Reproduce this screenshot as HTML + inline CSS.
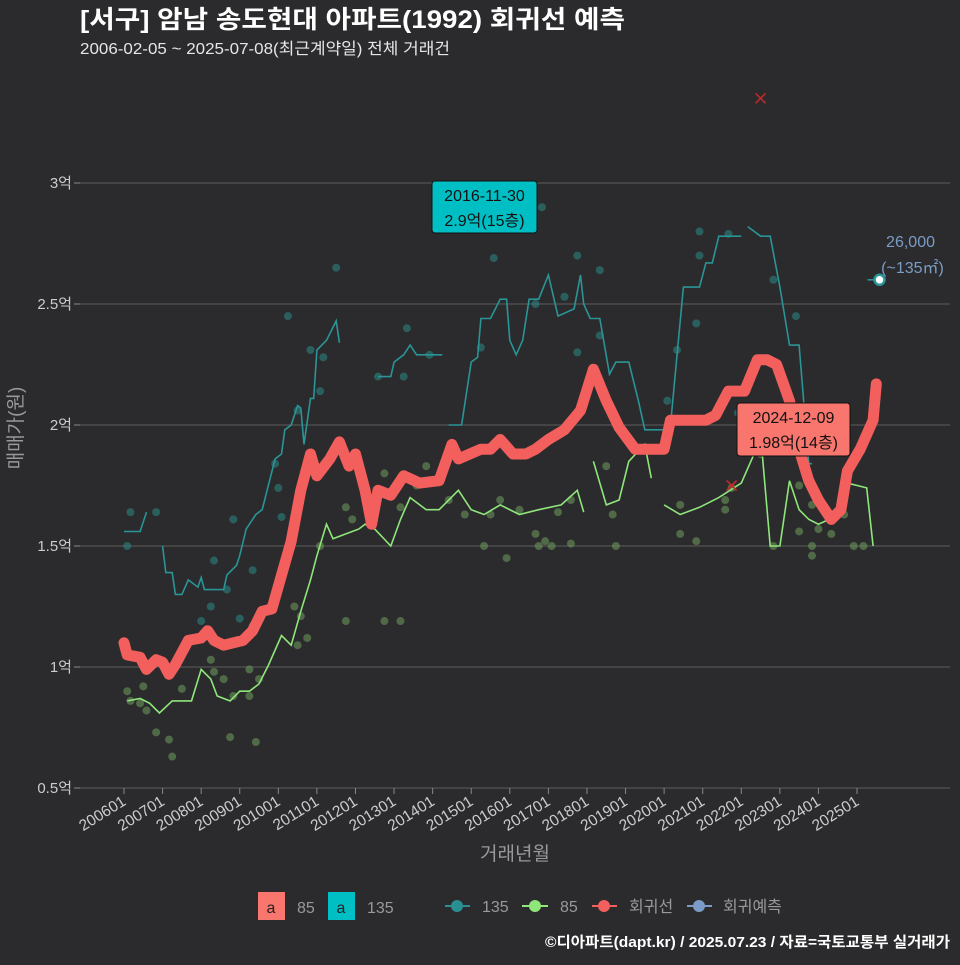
<!DOCTYPE html>
<html><head><meta charset="utf-8">
<style>
html,body{margin:0;padding:0;background:#2b2b2d;}
body{width:960px;height:960px;overflow:hidden;font-family:"Liberation Sans","Noto Sans CJK KR",sans-serif;}
</style></head>
<body>
<svg id="chart" width="960" height="960" xmlns="http://www.w3.org/2000/svg" style="font-family:'Liberation Sans','Noto Sans CJK KR',sans-serif">
<rect width="960" height="960" fill="#2b2b2d"/>
<text x="80" y="28" fill="#ffffff" font-size="25" font-weight="bold" textLength="545" lengthAdjust="spacingAndGlyphs">[서구] 암남 송도현대 아파트(1992) 회귀선 예측</text>
<text x="80" y="54" fill="#e6e6e6" font-size="16" textLength="370" lengthAdjust="spacingAndGlyphs">2006-02-05 ~ 2025-07-08(최근계약일) 전체 거래건</text>
<g id="grid"></g>
<g id="marks"></g>
<g id="axes"></g>
<text x="515" y="860" fill="#999" font-size="19" text-anchor="middle">거래년월</text>
<text transform="translate(22,428) rotate(-90)" fill="#999" font-size="19" text-anchor="middle">매매가(원)</text>
<g>
 <rect x="258" y="892" width="27" height="28" fill="#f8766d"/>
 <text x="271" y="913" font-size="16" text-anchor="middle" fill="#222">a</text>
 <text x="297" y="913" font-size="16" fill="#999">85</text>
 <rect x="328" y="892" width="27" height="28" fill="#00bfc4"/>
 <text x="341" y="913" font-size="16" text-anchor="middle" fill="#222">a</text>
 <text x="367" y="913" font-size="16" fill="#999">135</text>
 <g><line x1="445" x2="470" y1="906" y2="906" stroke="#2a8f91" stroke-width="2"/><circle cx="457" cy="906" r="6" fill="#2a8f91"/><text x="482" y="912" font-size="16" fill="#999">135</text></g>
 <g><line x1="522" x2="548" y1="906" y2="906" stroke="#8fe67a" stroke-width="2"/><circle cx="535" cy="906" r="6" fill="#8fe67a"/><text x="560" y="912" font-size="16" fill="#999">85</text></g>
 <g><line x1="592" x2="617" y1="906" y2="906" stroke="#f25f5c" stroke-width="2"/><circle cx="604" cy="906" r="6" fill="#f25f5c"/><text x="629" y="912" font-size="16" fill="#999">회귀선</text></g>
 <g><line x1="687" x2="712" y1="906" y2="906" stroke="#7a9cc6" stroke-width="2"/><circle cx="699" cy="906" r="6" fill="#7a9cc6"/><text x="723" y="912" font-size="16" fill="#999">회귀예측</text></g>
</g>
<text x="950" y="947" font-size="15" font-weight="bold" fill="#fff" text-anchor="end" textLength="405" lengthAdjust="spacingAndGlyphs">©디아파트(dapt.kr) / 2025.07.23 / 자료=국토교통부 실거래가</text>
</svg>
<script>
const NS='http://www.w3.org/2000/svg';
const yTicks=[0.5,1,1.5,2,2.5,3];
const yTickLabels=['0.5억','1억','1.5억','2억','2.5억','3억'];
const xTickLabels=['200601','200701','200801','200901','201001','201101','201201','201301','201401','201501','201601','201701','201801','201901','202001','202101','202201','202301','202401','202501'];
const regMonths=[0,1,5,7,10,12,14,16,20,24,26,28,31,37,40,43,46,52,55,58,60,64,67,70,72,75,77,79,83,87,92,98,102,104,111,114,117,121,125,128,132,137,142,146,150,154,159,164,168,170,176,181,184,188,193,197,200,203,207,210,213,216,220,223,225,229,233,234];
const regValues=[1.10,1.05,1.04,0.99,1.03,1.02,0.97,1.01,1.11,1.12,1.15,1.11,1.09,1.11,1.15,1.23,1.24,1.52,1.73,1.88,1.79,1.86,1.93,1.83,1.88,1.73,1.59,1.73,1.71,1.79,1.76,1.77,1.92,1.86,1.90,1.90,1.94,1.88,1.88,1.90,1.94,1.98,2.06,2.23,2.10,1.99,1.90,1.90,1.90,2.02,2.02,2.02,2.04,2.14,2.14,2.27,2.27,2.25,2.10,1.90,1.77,1.69,1.61,1.65,1.81,1.90,2.02,2.17];
const s85Months=[1,5,8,11,15,21,24,27,29,33,36,39,42,45,49,52,55,58,60,63,65,69,73,75,78,83,86,89,94,98,104,108,112,117,123,129,136,141,143,null,146,150,154,157,162,164,null,168,173,179,185,192,196,198,201,204,207,210,213,216,221,225,231,233];
const s85Values=[0.86,0.87,0.85,0.81,0.86,0.86,0.99,0.95,0.88,0.86,0.90,0.90,0.93,1.01,1.13,1.09,1.23,1.36,1.46,1.59,1.53,1.55,1.57,1.59,1.57,1.50,1.61,1.70,1.65,1.65,1.73,1.65,1.63,1.67,1.63,1.65,1.67,1.73,1.64,null,1.85,1.67,1.69,1.85,1.92,1.78,null,1.67,1.63,1.66,1.70,1.76,1.88,1.96,1.50,1.50,1.77,1.65,1.61,1.59,1.62,1.76,1.74,1.50];
const s135Months=[0,5,7,null,12,13,15,16,18,20,23,24,25,31,32,35,36,38,41,43,47,49,50,52,54,55,56,58,59,60,63,66,67,null,79,83,84,87,89,91,99,null,101,105,108,110,111,114,117,119,120,122,124,126,129,132,135,140,142,143,145,148,151,153,157,160,162,168,170,174,179,181,183,185,192,null,194,198,201,204,207,210,213,214];
const s135Values=[1.56,1.56,1.64,null,1.50,1.39,1.39,1.30,1.30,1.36,1.33,1.37,1.32,1.32,1.38,1.42,1.46,1.57,1.63,1.65,1.86,1.88,1.98,2.00,2.08,2.07,1.92,2.11,2.11,2.31,2.35,2.43,2.34,null,2.20,2.20,2.26,2.29,2.33,2.29,2.29,null,2.00,2.00,2.26,2.28,2.44,2.44,2.52,2.52,2.35,2.29,2.35,2.52,2.52,2.62,2.45,2.48,2.62,2.50,2.44,2.44,2.21,2.26,2.26,2.10,1.98,1.98,2.00,2.57,2.57,2.67,2.67,2.78,2.78,null,2.82,2.78,2.78,2.57,2.33,2.33,1.84,1.84];
const dot135Months=[1,2,10,24,28,27,34,36,40,40,32,48,47,49,54,58,61,62,51,66,79,87,88,95,111,115,128,130,137,141,148,141,148,169,172,178,179,179,188,202,209,191,206];
const dot135Values=[1.50,1.64,1.64,1.19,1.44,1.25,1.61,1.20,1.17,1.40,1.32,1.74,1.84,1.62,2.06,2.31,2.14,2.28,2.45,2.65,2.20,2.20,2.40,2.29,2.32,2.69,2.50,2.90,2.53,2.70,2.64,2.30,2.37,2.10,2.31,2.42,2.70,2.80,2.79,2.60,2.45,2.05,2.12];
const dot85Months=[1,2,5,7,10,15,14,6,18,27,28,31,33,34,39,41,39,42,53,55,57,54,61,69,71,69,81,86,86,81,91,94,101,106,112,114,117,119,123,128,129,131,135,139,139,133,150,152,153,173,173,178,187,187,189,198,210,214,216,220,224,210,214,227,230,214,202];
const dot85Values=[0.90,0.86,0.85,0.82,0.73,0.63,0.70,0.92,0.91,1.03,0.98,0.95,0.71,0.88,0.88,0.69,0.99,0.95,1.25,1.21,1.12,1.09,1.50,1.66,1.61,1.19,1.80,1.66,1.19,1.19,1.75,1.83,1.69,1.63,1.50,1.63,1.69,1.45,1.65,1.55,1.50,1.52,1.64,1.69,1.51,1.50,1.83,1.63,1.50,1.67,1.55,1.52,1.69,1.65,1.74,1.88,1.75,1.67,1.57,1.55,1.63,1.56,1.50,1.50,1.50,1.46,1.50];
const cancelMonths=[198,189];
const cancelValues=[3.35,1.75];
const predMonth=[235];
const predValue=[2.60];

const X0=124, PXM=38.58/12;
function xs(m){return X0+m*PXM;}
function ys(v){return 788-(v-0.5)*242;}
function el(tag,attrs,parent){const e=document.createElementNS(NS,tag);for(const k in attrs)e.setAttribute(k,attrs[k]);parent.appendChild(e);return e;}
const grid=document.getElementById('grid'),marks=document.getElementById('marks'),axes=document.getElementById('axes');

yTicks.forEach((v,i)=>{
  const l=el('line',{x1:80,x2:950,y1:ys(v),y2:ys(v),stroke:'#5c5c5c','stroke-width':1},grid);
  
  
  el('line',{x1:74,x2:80,y1:ys(v),y2:ys(v),stroke:'#888'},axes);
  const t=el('text',{x:72,y:ys(v)+5,'text-anchor':'end','font-size':15,fill:'#ccc'},axes);
  t.textContent=yTickLabels[i];
  
  
});
xTickLabels.forEach((lab,i)=>{
  const x=xs(i*12);
  el('line',{x1:x,x2:x,y1:788,y2:794,stroke:'#888'},axes);
  const t=el('text',{transform:`translate(${x+3},${804}) rotate(-32)`,'text-anchor':'end','font-size':15.5,fill:'#ccc'},axes);
  t.textContent=lab;
  
  
});

function dots(ms,vs,fill,name){
  ms.forEach((m,i)=>{
    const c=el('circle',{cx:xs(m),cy:ys(vs[i]),r:4,fill:fill,'fill-opacity':0.55},marks);
    
    
  });
}
dots(dot135Months,dot135Values,'#2b8a86','trade-dot-135');
dots(dot85Months,dot85Values,'#6f9e5c','trade-dot-85');

function pathD(ms,vs){
  let d='',pen=false;
  ms.forEach((m,i)=>{
    if(m===null||vs[i]===null){pen=false;return;}
    d+=(pen?'L':'M')+xs(m).toFixed(1)+','+ys(vs[i]).toFixed(1)+' ';pen=true;
  });
  return d;
}
const p135=el('path',{d:pathD(s135Months,s135Values),fill:'none',stroke:'#2a9496','stroke-width':1.6},marks);


const p85=el('path',{d:pathD(s85Months,s85Values),fill:'none',stroke:'#8fe67a','stroke-width':1.6},marks);


const preg=el('path',{d:pathD(regMonths,regValues),fill:'none',stroke:'#f25f5c','stroke-width':11,'stroke-linejoin':'round','stroke-linecap':'round'},marks);



cancelMonths.forEach((m,i)=>{
  const x=xs(m),y=ys(cancelValues[i]);
  const g=el('g',{stroke:'#c0282a','stroke-width':1.6},marks);
  
  
  el('line',{x1:x-5,y1:y-5,x2:x+5,y2:y+5},g);el('line',{x1:x-5,y1:y+5,x2:x+5,y2:y-5},g);
});
const px=xs(predMonth[0]),py=ys(predValue[0]);
el('line',{x1:px-12,x2:px,y1:py,y2:py,stroke:'#2a9496','stroke-width':1.6},marks);
const pc=el('circle',{cx:px,cy:py,r:5,fill:'#fff',stroke:'#2a9496','stroke-width':2.5},marks);


const pt1=el('text',{x:px+31,y:py-33,'text-anchor':'middle','font-size':16,fill:'#7a9cc6'},marks);
pt1.textContent='26,000';


const pt2=el('text',{x:px+33,y:py-7,'text-anchor':'middle','font-size':16,fill:'#7a9cc6'},marks);
pt2.textContent='(~135㎡)';



function label(x,y,w,h,bg,l1,l2,name){
  const g=el('g',{},marks);
  
  
  el('rect',{x:x,y:y,width:w,height:h,rx:3,fill:bg,stroke:'#111','stroke-width':1},g);
  const a=el('text',{x:x+w/2,y:y+20,'text-anchor':'middle','font-size':16,fill:'#111'},g);a.textContent=l1;
  const b=el('text',{x:x+w/2,y:y+45,'text-anchor':'middle','font-size':16,fill:'#111'},g);b.textContent=l2;
}
label(432,181,105,52,'#00bfc4','2016-11-30','2.9억(15층)','max-price-annotation');
label(737,403,113,53,'#f8766d','2024-12-09','1.98억(14층)','latest-price-annotation');
</script>
</body></html>
